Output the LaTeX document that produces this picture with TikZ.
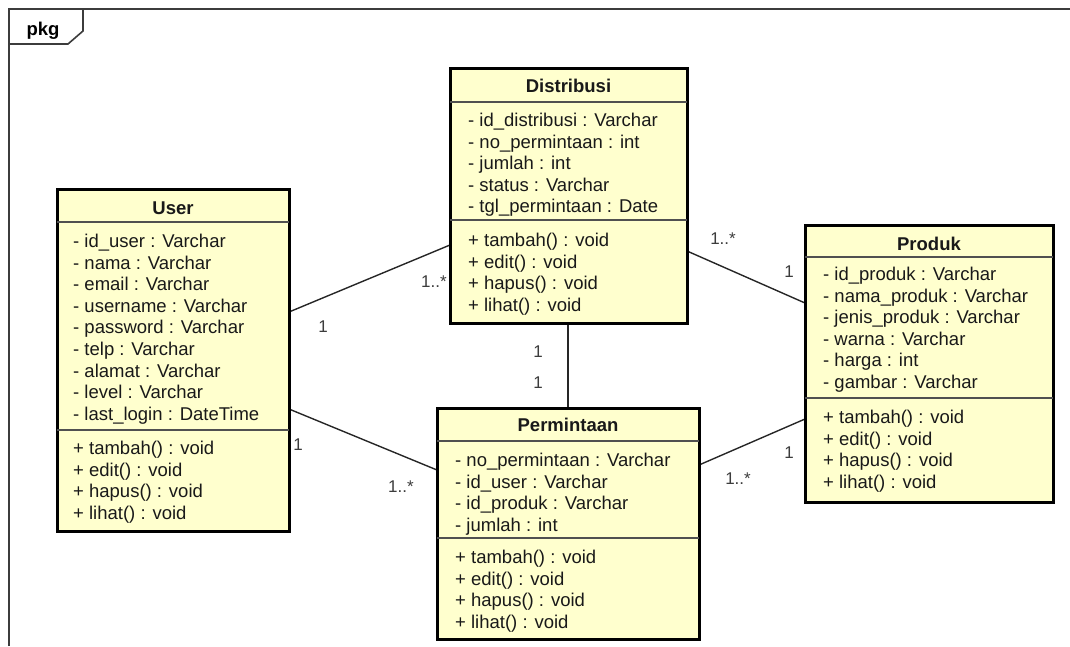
\documentclass[tikz,border=0pt]{standalone}
\usepackage{fontspec}
\setmainfont{Liberation Sans}
\usetikzlibrary{calc}
\pgfdeclarelayer{back}
\pgfsetlayers{back,main}
\definecolor{classfill}{RGB}{255,255,206}
\definecolor{framegray}{RGB}{60,60,60}
\definecolor{seplines}{RGB}{80,80,80}
\definecolor{multtext}{RGB}{60,60,60}
\definecolor{classtext}{RGB}{25,25,25}

% one compartment row list: prefix, x, centre y of first row, rows
\newcommand\classrows[4]{%
  \foreach \t [count=\i] in {#4} {
    \node[rowtext] (#1\i) at (#2, {#3+(\i-1)*21.6+6.5}) {\t};
  }%
}
% horizontal compartment separator inside a class box
\newcommand\classsep[2]{%
  \draw[seprule] (#1.west |- 0,#2) -- (#1.east |- 0,#2);%
}

\begin{document}
\begin{tikzpicture}[x=1pt,y=-1pt,
  classbox/.style={draw=black, line width=3pt, fill=classfill, rectangle,
    inner sep=0pt, outer sep=0pt, anchor=north west},
  classtitle/.style={font=\fontsize{18.5}{21}\selectfont\bfseries, anchor=base,
    inner sep=0pt, text=classtext},
  rowtext/.style={font=\fontsize{18.5}{21}\selectfont, anchor=base west,
    inner sep=0pt, text=classtext},
  seprule/.style={draw=seplines, line width=1.4pt},
  assoc/.style={draw=black!85, line width=1.4pt},
  mult/.style={font=\fontsize{17}{20}\selectfont, text=multtext, inner sep=0pt},
  framerule/.style={draw=framegray, line width=1.6pt}
]
\useasboundingbox (0,0) rectangle (1070,646);

% package frame and its tab
\draw[framerule] (9,646) -- (9,9) -- (1070,9);
\draw[framerule] (9,44) -- (68,44) -- (83,31) -- (83,9);
\node[font=\fontsize{18.5}{21}\selectfont\bfseries, anchor=base, inner sep=0pt]
  (pkglabel) at (43,35) {pkg};

% ---- User
\node[classbox, minimum width=232pt, minimum height=342pt] (user) at (57,189) {};
\node[classtitle] (usertitle) at (173,214.5) {User};
\classsep{user}{222}
\classsep{user}{430}
\classrows{ua}{73}{241}{- id\_user : Varchar,- nama : Varchar,- email : Varchar,
  - username : Varchar,- password : Varchar,- telp : Varchar,- alamat : Varchar,
  - level : Varchar,- last\_login : DateTime}
\classrows{um}{73}{448}{+ tambah() : void,+ edit() : void,+ hapus() : void,+ lihat() : void}

% ---- Distribusi
\node[classbox, minimum width=237pt, minimum height=255pt] (dist) at (450,68) {};
\node[classtitle] (disttitle) at (568.5,92.5) {Distribusi};
\classsep{dist}{102}
\classsep{dist}{220}
\classrows{da}{468}{120}{- id\_distribusi : Varchar,- no\_permintaan : int,
  - jumlah : int,- status : Varchar,- tgl\_permintaan : Date}
\classrows{dm}{468}{240}{+ tambah() : void,+ edit() : void,+ hapus() : void,+ lihat() : void}

% ---- Produk
\node[classbox, minimum width=248pt, minimum height=277pt] (prod) at (805,225) {};
\node[classtitle] (prodtitle) at (929,250) {Produk};
\classsep{prod}{257}
\classsep{prod}{398}
\classrows{pa}{823}{274}{- id\_produk : Varchar,- nama\_produk : Varchar,
  - jenis\_produk : Varchar,- warna : Varchar,- harga : int,- gambar : Varchar}
\classrows{pm}{823}{417}{+ tambah() : void,+ edit() : void,+ hapus() : void,+ lihat() : void}

% ---- Permintaan
\node[classbox, minimum width=262pt, minimum height=231pt] (perm) at (437,408) {};
\node[classtitle] (permtitle) at (568,431.5) {Permintaan};
\classsep{perm}{441}
\classsep{perm}{538}
\classrows{qa}{455}{460}{- no\_permintaan : Varchar,- id\_user : Varchar,
  - id\_produk : Varchar,- jumlah : int}
\classrows{qm}{455}{557}{+ tambah() : void,+ edit() : void,+ hapus() : void,+ lihat() : void}

% ---- associations
\begin{pgfonlayer}{back}
  \draw[assoc] (user.east |- 0,312) -- (dist.west |- 0,245);
  \draw[assoc] (user.east |- 0,409) -- (perm.west |- 0,470);
  \draw[assoc] (dist.south -| 568,0) -- (perm.north -| 568,0);
  \draw[assoc] (dist.east |- 0,251) -- (prod.west |- 0,303);
  \draw[assoc] (perm.east |- 0,465) -- (prod.west |- 0,419);
\end{pgfonlayer}

% ---- multiplicities
\node[mult] (m1) at (323,327) {1};
\node[mult] (m2) at (434,282) {1..*};
\node[mult] (m3) at (298,445) {1};
\node[mult] (m4) at (401,487) {1..*};
\node[mult] (m5) at (538,352) {1};
\node[mult] (m6) at (538,383) {1};
\node[mult] (m7) at (723,239) {1..*};
\node[mult] (m8) at (789,272) {1};
\node[mult] (m9) at (789,453) {1};
\node[mult] (m10) at (738,479) {1..*};
\end{tikzpicture}
\end{document}
